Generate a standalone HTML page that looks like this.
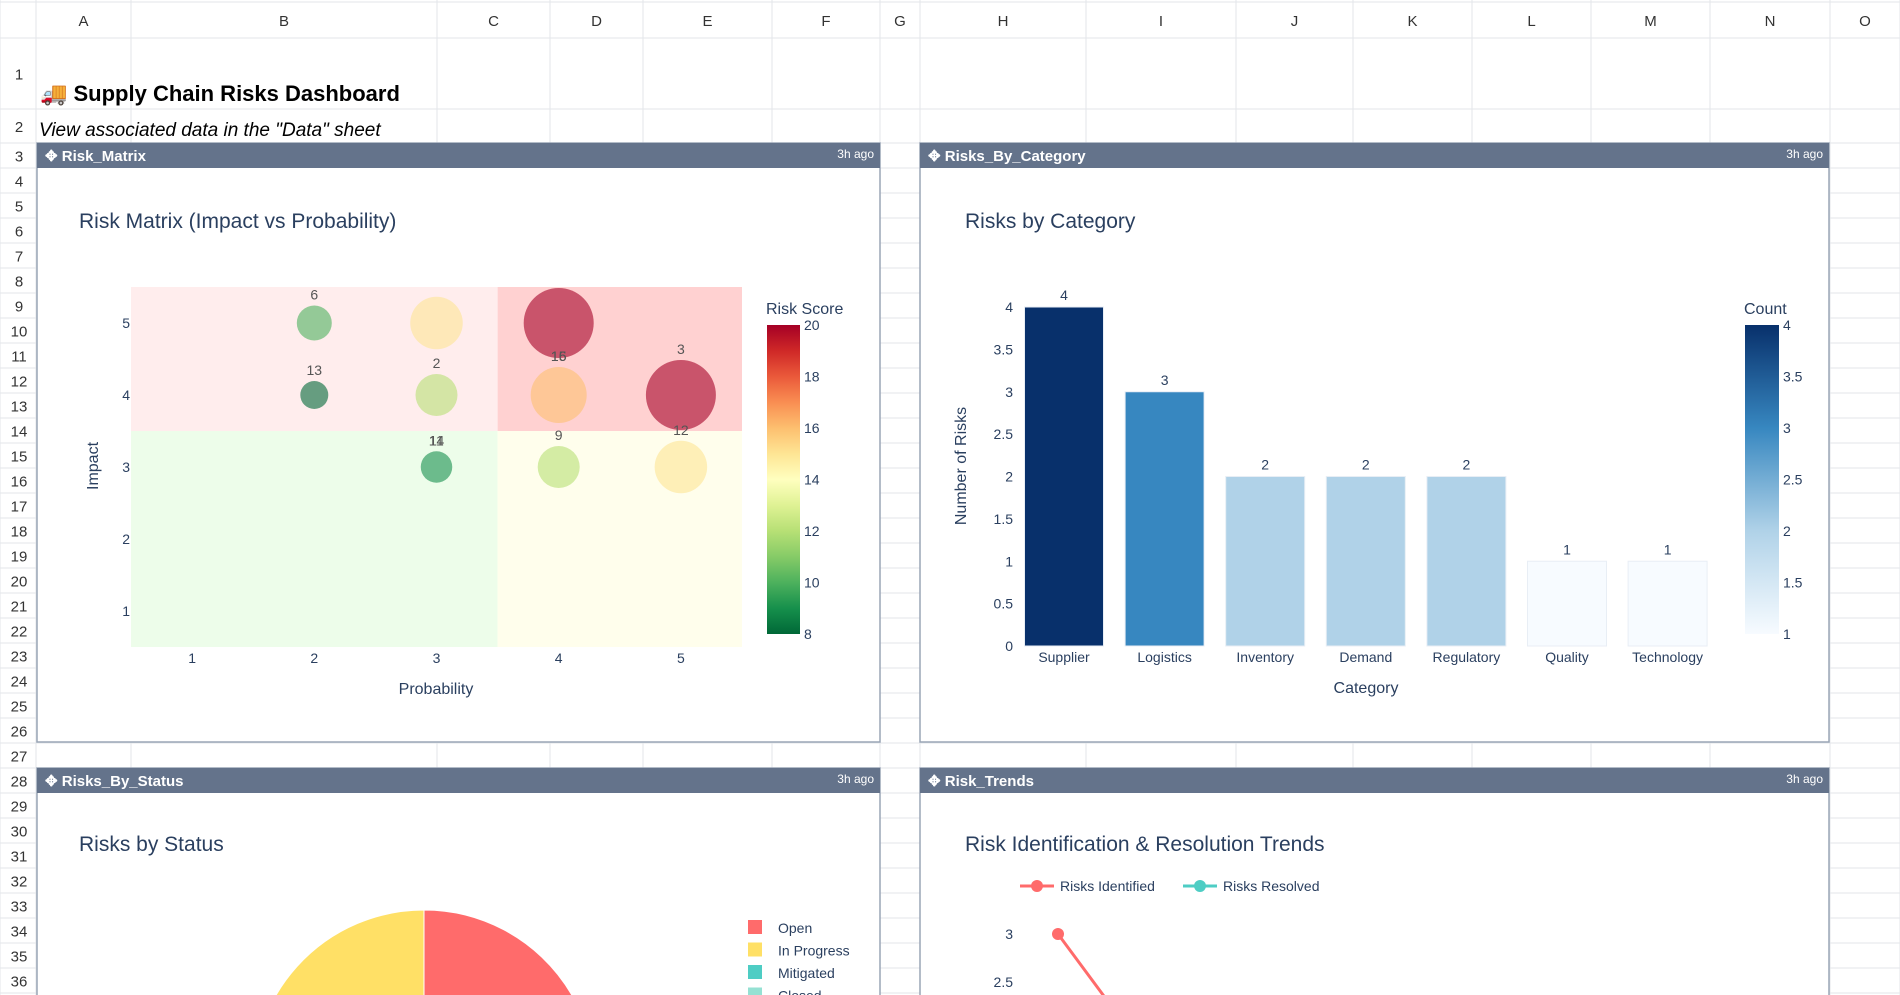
<!DOCTYPE html>
<html><head><meta charset="utf-8">
<style>
html,body{margin:0;padding:0;background:#fff;width:1900px;height:995px;overflow:hidden}
svg{display:block;font-family:"Liberation Sans",sans-serif}
</style></head>
<body>
<svg id="s" width="1900" height="995" viewBox="0 0 1900 995" xmlns="http://www.w3.org/2000/svg">
</svg>
<script>
// ---------- data ----------
const colEdges=[0,36,131,437,550,643,772,880,920,1086,1236,1353,1472,1591,1710,1830,1900];
const colNames=["A","B","C","D","E","F","G","H","I","J","K","L","M","N","O"];
// risk matrix
const rmProb=[2,3,4,2,3,4,5,3,4,5];
const rmImpact=[5,5,5,4,4,4,4,3,3,3];
const rmScore=[10,15,20,8,12,16,20,9,12,15];
const rmLabels=["6","","","13","2","15|16","3","14|11","9","12"];
const rmTicks=[1,2,3,4,5];
const rmCbTicks=[8,10,12,14,16,18,20];
// category bars
const catNames=["Supplier","Logistics","Inventory","Demand","Regulatory","Quality","Technology"];
const catCounts=[4,3,2,2,2,1,1];
const catYTicks=[0,0.5,1,1.5,2,2.5,3,3.5,4];
const catCbTicks=[1,1.5,2,2.5,3,3.5,4];
// status pie
const statusNames=["Open","In Progress","Mitigated","Closed"];
const statusValues=[5,4,4,2];
const statusColors=["#ff6b6b","#ffe066","#4ecdc4","#95e1d3"];
// trends
const trendMonths=["Jan","Feb","Mar","Apr","May","Jun"];
const trendIdentified=[3,2,2,1,2,1];
const trendResolved=[0,1,1,2,1,2];
const trendYTicks=[2.5,3];

const S=document.getElementById('s');
const NS="http://www.w3.org/2000/svg";
function mk(tag,attrs,parent,text){const e=document.createElementNS(NS,tag);for(const k in attrs)e.setAttribute(k,attrs[k]);if(text!==undefined)e.textContent=text;(parent||S).appendChild(e);return e;}

// ---------- grid ----------
const grid=mk('g',{});


const rowTops=[38,109,143];for(let n=4;n<=37;n++)rowTops.push(168+(n-4)*25);
rowTops.forEach(y=>{if(y<995)mk('line',{x1:0,x2:1900,y1:y,y2:y,stroke:'#e3e6ea','stroke-width':1},grid);});
colEdges.forEach(x=>mk('line',{x1:x,x2:x,y1:0,y2:995,stroke:'#e3e6ea','stroke-width':1},grid));
mk('line',{x1:0,x2:1900,y1:2,y2:2,stroke:'#e3e6ea'},grid);
for(let i=0;i<colNames.length;i++){
  const t=mk('text',{x:(colEdges[i+1]+colEdges[i+2])/2,y:26,'text-anchor':'middle','font-size':15,fill:'#333'},grid,colNames[i]);
  
  
}
for(let r=1;r<=36;r++){
  const top=rowTops[r-1],bot=rowTops[r];
  const t=mk('text',{x:19,y:(top+bot)/2+6,'text-anchor':'middle','font-size':15,fill:'#333'},grid,String(r));
  
  
}
let t=mk('text',{x:40,y:101,'font-size':22,'font-weight':'bold',fill:'#000'},S,'🚚 Supply Chain Risks Dashboard');


t=mk('text',{x:39,y:136,'font-size':19,'font-style':'italic',fill:'#000'},S,'View associated data in the "Data" sheet');



// ---------- panels ----------
function panel(x,y,w,h,name,key,openBottom){
  const g=mk('g',{});
  
  
  mk('rect',{x:x,y:y,width:w,height:h,fill:'#fff'},g);
  if(openBottom){
    mk('path',{d:`M${x},${y+h}V${y}H${x+w}V${y+h}`,fill:'none',stroke:'#9aa5b6','stroke-width':1.5},g);
  }else{
    mk('rect',{x:x,y:y,width:w,height:h,fill:'none',stroke:'#9aa5b6','stroke-width':1.5},g);
  }
  mk('rect',{x:x,y:y,width:w,height:25,fill:'#64738b'},g);
  const tt=mk('text',{x:x+8,y:y+18,'font-size':15,'font-weight':'bold',fill:'#fff'},g,'✥ '+name);
  
  
  const ag=mk('text',{x:x+w-6,y:y+15,'font-size':12,fill:'#fff','text-anchor':'end'},g,'3h ago');
  
  
  return g;
}
panel(37,143,843,599,'Risk_Matrix','risk-matrix',false);
panel(920,143,909,599,'Risks_By_Category','risks-by-category',false);
panel(37,768,843,227,'Risks_By_Status','risks-by-status',true);
panel(920,768,909,227,'Risk_Trends','risk-trends',true);

function title(x,y,s,name){const e=mk('text',{x:x,y:y,'font-size':21,fill:'#2a3f5f'},S,s);}
title(79,228,'Risk Matrix (Impact vs Probability)','risk-matrix-chart-title');
title(965,228,'Risks by Category','category-chart-title');
title(79,851,'Risks by Status','status-chart-title');
title(965,851,'Risk Identification & Resolution Trends','trends-chart-title');

// ---------- Risk matrix ----------
const rmX=v=>131+(v-0.5)*122.2;
const rmY=v=>647-(v-0.5)*72;
const rmG=mk('g',{});


function zone(x0,x1,y0,y1,fill,name){const r=mk('rect',{x:rmX(x0),y:rmY(y1),width:rmX(x1)-rmX(x0),height:rmY(y0)-rmY(y1),fill:fill},rmG);}
zone(0.5,3.5,3.5,5.5,'#ffeded','zone-high-impact-low-prob');
zone(3.5,5.5,3.5,5.5,'#ffd1d1','zone-critical');
zone(0.5,3.5,0.5,3.5,'#edfdea','zone-low');
zone(3.5,5.5,0.5,3.5,'#fffeec','zone-high-prob-low-impact');
function rdylgn(v){
  const cs=[[0,104,55],[26,152,80],[102,189,99],[166,217,106],[217,239,139],[255,255,191],[254,224,139],[253,174,97],[244,109,67],[215,48,39],[165,0,38]];
  let p=(v-8)/12;p=Math.max(0,Math.min(1,p))*10;
  const i=Math.min(9,Math.floor(p)),f=p-i,a=cs[i],b=cs[i+1];
  return 'rgb('+a.map((c,j)=>Math.round(c+(b[j]-c)*f)).join(',')+')';
}
const clip=mk('clipPath',{id:'rmclip'},S);mk('rect',{x:131,y:287,width:611,height:360},clip);
const bub=mk('g',{'clip-path':'url(#rmclip)'},rmG);
for(let i=0;i<rmProb.length;i++){
  const cx=rmX(rmProb[i]),cy=rmY(rmImpact[i]),r=rmScore[i]*1.75;
  const c=mk('circle',{cx:cx,cy:cy,r:r,fill:rdylgn(rmScore[i]),'fill-opacity':0.6},bub);
  
  
  if(rmLabels[i]){rmLabels[i].split('|').forEach(s=>{
    const l=mk('text',{x:cx,y:cy-r-6,'text-anchor':'middle','font-size':14,fill:'#555'},bub,s);
    
    
  });}
}
rmTicks.forEach(v=>{
  let a=mk('text',{x:rmX(v),y:663,'text-anchor':'middle','font-size':14,fill:'#2a3f5f'},rmG,String(v));
  
  a=mk('text',{x:130,y:rmY(v)+5,'text-anchor':'end','font-size':14,fill:'#2a3f5f'},rmG,String(v));
  
});
t=mk('text',{x:436,y:694,'text-anchor':'middle','font-size':16,fill:'#2a3f5f'},rmG,'Probability');

t=mk('text',{x:0,y:0,'text-anchor':'middle','font-size':16,fill:'#2a3f5f',transform:'translate(98,466) rotate(-90)'},rmG,'Impact');

const defs=mk('defs',{},S);
const g1=mk('linearGradient',{id:'rdy',x1:0,y1:1,x2:0,y2:0},defs);
for(let k=0;k<=12;k++)mk('stop',{offset:(k/12),'stop-color':rdylgn(8+k)},g1);
const cb=mk('g',{});
mk('rect',{x:767,y:325,width:33,height:309,fill:'url(#rdy)'},cb);
const cbY=v=>634-(v-8)/12*309;
rmCbTicks.forEach(v=>mk('text',{x:804,y:cbY(v)+5,'font-size':14,fill:'#2a3f5f'},cb,String(v)));
mk('text',{x:766,y:314,'font-size':16,fill:'#2a3f5f'},cb,'Risk Score');

// ---------- Category bars ----------
const bx=i=>1064+i*100.6;
const by=v=>646-v*84.75;
function blues(v){const stops=[[1,[247,251,255]],[2,[176,210,232]],[3,[55,135,192]],[4,[8,48,107]]];
  for(let i=1;i<stops.length;i++){if(v<=stops[i][0]){const a=stops[i-1],b=stops[i],f=(v-a[0])/(b[0]-a[0]);return 'rgb('+a[1].map((c,j)=>Math.round(c+(b[1][j]-c)*f)).join(',')+')';}}return 'rgb(8,48,107)';}
const bg=mk('g',{});
catYTicks.forEach(v=>{const a=mk('text',{x:1013,y:by(v)+5,'text-anchor':'end','font-size':14,fill:'#2a3f5f'},bg,String(v));});
catNames.forEach((n,i)=>{
  const v=catCounts[i];
  const r=mk('rect',{x:bx(i)-39.5,y:by(v),width:79,height:by(0)-by(v),fill:blues(v),stroke:'#e8eef5','stroke-width':1},bg);
  
  
  let a=mk('text',{x:bx(i),y:by(v)-7,'text-anchor':'middle','font-size':14,fill:'#2a3f5f'},bg,String(v));
  
  a=mk('text',{x:bx(i),y:662,'text-anchor':'middle','font-size':14,fill:'#2a3f5f'},bg,n);
  
});
t=mk('text',{x:1366,y:693,'text-anchor':'middle','font-size':16,fill:'#2a3f5f'},bg,'Category');

t=mk('text',{x:0,y:0,'text-anchor':'middle','font-size':16,fill:'#2a3f5f',transform:'translate(966,466) rotate(-90)'},bg,'Number of Risks');

const g2=mk('linearGradient',{id:'blu',x1:0,y1:1,x2:0,y2:0},defs);
for(let k=0;k<=6;k++)mk('stop',{offset:k/6,'stop-color':blues(1+k*0.5)},g2);
const cb2=mk('g',{});
mk('rect',{x:1745,y:325,width:34,height:309,fill:'url(#blu)'},cb2);
catCbTicks.forEach(v=>mk('text',{x:1783,y:634-(v-1)/3*309+5,'font-size':14,fill:'#2a3f5f'},cb2,String(v)));
mk('text',{x:1744,y:314,'font-size':16,fill:'#2a3f5f'},cb2,'Count');

// ---------- Status pie ----------
const pclip=mk('clipPath',{id:'pclip'},S);mk('rect',{x:38,y:793,width:841,height:202},pclip);
const pg=mk('g',{'clip-path':'url(#pclip)'});
const pcx=424,pcy=1081,pr=171;const tot=statusValues.reduce((a,b)=>a+b,0);
const order=[0,2,3,1];
let ang=0;
order.forEach(i=>{
  const v=statusValues[i];
  const a0=ang,a1=ang+v/tot*2*Math.PI;ang=a1;
  const x0=pcx+pr*Math.sin(a0),y0=pcy-pr*Math.cos(a0),x1=pcx+pr*Math.sin(a1),y1=pcy-pr*Math.cos(a1);
  const p=mk('path',{d:`M${pcx},${pcy}L${x0},${y0}A${pr},${pr} 0 ${a1-a0>Math.PI?1:0} 1 ${x1},${y1}Z`,fill:statusColors[i],stroke:'#fff','stroke-width':1},pg);
  
  
});
const lclip=mk('clipPath',{id:'lclip'},S);mk('rect',{x:700,y:900,width:170,height:95},lclip);
const lgs=mk('g',{'clip-path':'url(#lclip)'});
statusNames.forEach((n,i)=>{
  const lg=mk('g',{},lgs);
  mk('rect',{x:748,y:920+i*22.5,width:14,height:14,fill:statusColors[i]},lg);
  mk('text',{x:778,y:933+i*22.5,'font-size':14,fill:'#2a3f5f'},lg,n);
});

// ---------- Trends ----------
const tx=i=>1058+i*71;
const ty=v=>934-(v-3)*96;
const tg=mk('g',{});
trendYTicks.forEach(v=>mk('text',{x:1013,y:ty(v)+5,'text-anchor':'end','font-size':14,fill:'#2a3f5f'},tg,String(v)));
const tclip=mk('clipPath',{id:'tclip'},S);mk('rect',{x:921,y:905,width:907,height:90},tclip);
function series(vals,col,name){
  const sg=mk('g',{'clip-path':'url(#tclip)'},tg);
  
  
  mk('polyline',{points:vals.map((v,i)=>tx(i)+','+ty(v)).join(' '),fill:'none',stroke:col,'stroke-width':3},sg);
  vals.forEach((v,i)=>mk('circle',{cx:tx(i),cy:ty(v),r:6,fill:col},sg));
}
series(trendResolved,'#4ecdc4','series-risks-resolved');
series(trendIdentified,'#ff6b6b','series-risks-identified');
function legend(x,col,label,name){const lg=mk('g',{});
  mk('line',{x1:x,x2:x+34,y1:886,y2:886,stroke:col,'stroke-width':3},lg);mk('circle',{cx:x+17,cy:886,r:6,fill:col},lg);
  mk('text',{x:x+40,y:891,'font-size':14,fill:'#2a3f5f'},lg,label);}
legend(1020,'#ff6b6b','Risks Identified','legend-risks-identified');
legend(1183,'#4ecdc4','Risks Resolved','legend-risks-resolved');
</script>
</body></html>
